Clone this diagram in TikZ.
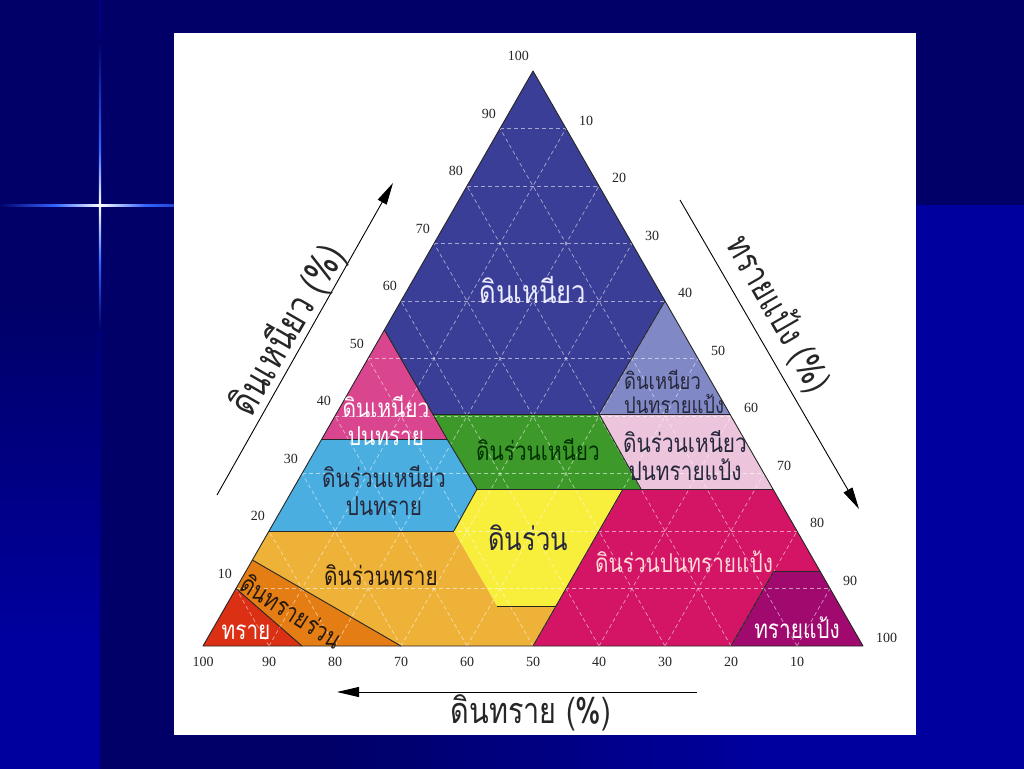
\documentclass[tikz,border=0pt]{standalone}
\usepackage{fontspec}
\setmainfont{Liberation Serif}
\newfontfamily\thai[Script=Thai,FakeStretch=0.8]{Loma}
\usetikzlibrary{arrows.meta}
\definecolor{navybg}{RGB}{0,0,104}
\definecolor{brightbg}{RGB}{0,0,158}
\definecolor{spark}{RGB}{50,100,255}
\definecolor{cClay}{RGB}{58,62,150}
\definecolor{cSiltyClay}{RGB}{128,136,198}
\definecolor{cSandyClay}{RGB}{217,70,143}
\definecolor{cClayLoam}{RGB}{61,154,42}
\definecolor{cSiltyClayLoam}{RGB}{236,196,220}
\definecolor{cSandyClayLoam}{RGB}{74,174,224}
\definecolor{cLoam}{RGB}{248,238,60}
\definecolor{cSiltLoam}{RGB}{212,20,100}
\definecolor{cSilt}{RGB}{160,10,110}
\definecolor{cSandyLoam}{RGB}{238,178,56}
\definecolor{cLoamySand}{RGB}{228,126,20}
\definecolor{cSand}{RGB}{220,48,20}
\definecolor{tDark}{RGB}{40,40,60}
\tikzset{
  gridl/.style={white,opacity=0.55,dash pattern=on 4pt off 3pt,line width=0.7pt},
  bd/.style={line width=0.9pt,draw=black!85,line join=round},
  tick/.style={font=\fontsize{14}{14}\selectfont,text=black!85,inner sep=0pt},
  axarrow/.style={line width=0.9pt,black,-{Triangle[length=22pt,width=10pt]}},
  axtitle/.style={font=\thai\fontsize{36}{36}\selectfont,text=black!85,inner sep=0pt},
  biglab/.style={font=\thai\fontsize{32}{32}\selectfont,inner sep=0pt},
  medlab/.style={font=\thai\fontsize{26}{28}\selectfont,inner sep=0pt,align=center},
  smalllab/.style={font=\thai\fontsize{23}{24}\selectfont,inner sep=0pt,align=center}
}
\begin{document}
\begin{tikzpicture}[x=1pt,y=-1pt]
\useasboundingbox (0,0) rectangle (1024,768);
% background
\fill[navybg] (-10,-10) rectangle (1034,778);
\shade[top color=navybg,bottom color=brightbg] (-10,300) rectangle (99,640);
\fill[brightbg] (-10,640) rectangle (99,778);
\shade[left color=navybg,right color=brightbg] (330,205) rectangle (760,778);
\fill[brightbg] (760,205) rectangle (1034,778);
\fill[navybg!80!blue] (99.2,-10) rectangle (100.6,778);
% sparkle
\shade[left color=navybg,right color=spark] (-2,204) rectangle (55,206.4);
\shade[left color=spark,right color=white] (55,204) rectangle (100,206.4);
\shade[left color=white,right color=spark] (100,204) rectangle (145,206.4);
\shade[left color=spark,right color=spark!70!navybg] (145,204) rectangle (175,206.4);
\shade[top color=navybg,bottom color=spark] (98.8,40) rectangle (101.2,150);
\shade[top color=spark,bottom color=white] (98.8,150) rectangle (101.2,205);
\shade[top color=white,bottom color=spark] (98.8,205) rectangle (101.2,262);
\shade[top color=spark,bottom color=navybg] (98.8,262) rectangle (101.2,330);
% white panel
\fill[white] (174,33) rectangle (916,735);
% regions
\fill[cClay] (533,71) -- (384.4,330) -- (432.7,414) -- (599,414) -- (665,301) -- cycle;
\fill[cSiltyClay] (665,301) -- (599,414) -- (730,414) -- cycle;
\fill[cSandyClay] (384.4,330) -- (321.8,439) -- (447,439) -- cycle;
\fill[cClayLoam] (432.7,414) -- (599,414) -- (641,489) -- (477,489) -- (447,439) -- cycle;
\fill[cSiltyClayLoam] (599,414) -- (730,414) -- (773,489) -- (641,489) -- cycle;
\fill[cSandyClayLoam] (321.8,439) -- (447,439) -- (477,489) -- (453.8,531) -- (269,531) -- cycle;
\fill[cLoam] (477,489) -- (623,489) -- (556,606) -- (496.8,606) -- (453.8,531) -- cycle;
\fill[cSiltLoam] (623,489) -- (773,489) -- (820,571) -- (774,571) -- (731,646) -- (533,646) -- (556,606) -- cycle;
\fill[cSilt] (774,571) -- (820,571) -- (863,646) -- (731,646) -- cycle;
\fill[cSandyLoam] (269,531) -- (453.8,531) -- (496.8,606) -- (556,606) -- (533,646) -- (401,646) -- (252.4,560) -- cycle;
\fill[cLoamySand] (252.4,560) -- (401,646) -- (302,646) -- (236,588.5) -- cycle;
\fill[cSand] (236,588.5) -- (302,646) -- (203,646) -- cycle;
% dashed grid
\begin{scope}
\clip (533,71) -- (203,646) -- (863,646) -- cycle;
\foreach \k in {10,20,...,90}{
  \draw[gridl] ({203+3.3*\k},{646-5.75*\k}) -- ({863-3.3*\k},{646-5.75*\k});
  \draw[gridl] ({203+6.6*\k},646) -- ({533+3.3*\k},{71+5.75*\k});
  \draw[gridl] ({863-6.6*\k},646) -- ({533-3.3*\k},{71+5.75*\k});
}
\end{scope}
% borders
\draw[bd] (384.4,330) -- (432.7,414) -- (447,439) -- (477,489) -- (453.8,531);
\draw[bd] (665,301) -- (599,414) -- (641,489);
\draw[bd] (432.7,414) -- (730,414);
\draw[bd] (321.8,439) -- (447,439);
\draw[bd] (477,489) -- (773,489);
\draw[bd] (269,531) -- (453.8,531);
\draw[bd] (623,489) -- (556,606) -- (533,646);
\draw[bd] (496.8,606) -- (556,606);
\draw[bd] (774,571) -- (820,571);
\draw[bd] (774,571) -- (731,646);
\draw[bd] (252.4,560) -- (401,646);
\draw[bd] (236,588.5) -- (302,646);
\draw[bd] (533,71) -- (203,646) -- (863,646) -- cycle;
% tick labels
\foreach \k in {10,20,...,100}{
  \node[tick,anchor=east] (cl\k) at ({203+3.3*\k-4},{646-5.75*\k-15}) {\k};
  \node[tick,anchor=west] (si\k) at ({533+3.3*\k+13},{71+5.75*\k-8}) {\k};
  \node[tick] (sa\k) at ({863-6.6*\k},662) {\k};
}
% region labels
\node[biglab,text=white!92!blue] (lClay) at (533,290) {ดินเหนียว};
\node[smalllab,text=tDark,align=left,anchor=west] (lSiltyClay) at (624,392) {ดินเหนียว\\ปนทรายแป้ง};
\node[medlab,text=white] (lSandyClay) at (386,421) {ดินเหนียว\\ปนทราย};
\node[medlab,text=black!80!green] (lClayLoam) at (538,450) {ดินร่วนเหนียว};
\node[medlab,text=tDark] (lSiltyClayLoam) at (685,456) {ดินร่วนเหนียว\\ปนทรายแป้ง};
\node[medlab,text=tDark] (lSandyClayLoam) at (384,491) {ดินร่วนเหนียว\\ปนทราย};
\node[biglab,text=tDark] (lLoam) at (528,538) {ดินร่วน};
\node[medlab,text=pink!60!white] (lSiltLoam) at (684,562) {ดินร่วนปนทรายแป้ง};
\node[medlab,text=black!80!brown] (lSandyLoam) at (381,575) {ดินร่วนทราย};
\node[medlab,text=black!80!brown,rotate=-32] (lLoamySand) at (292,611) {ดินทรายร่วน};
\node[medlab,text=white] (lSand) at (246,632) {ทราย};
\node[medlab,text=white] (lSilt) at (797,628) {ทรายแป้ง};
% axis arrows and titles
\coordinate (aL1) at (217,495); \coordinate (aL2) at (393,183);
\coordinate (aR1) at (680,200); \coordinate (aR2) at (859,509);
\coordinate (aB1) at (697,692); \coordinate (aB2) at (337,692);
\draw[axarrow] (aL1) -- (aL2);
\draw[axarrow] (aR1) -- (aR2);
\draw[axarrow] (aB1) -- (aB2);
\node[axtitle,rotate=60,font=\thai\fontsize{39}{39}\selectfont] (tClay) at (288,330) {ดินเหนียว (\%)};
\node[axtitle,rotate=-60] (tSilt) at (778,314) {ทรายแป้ง (\%)};
\node[axtitle] (tSand) at (531,713) {ดินทราย (\%)};
\end{tikzpicture}
\end{document}
